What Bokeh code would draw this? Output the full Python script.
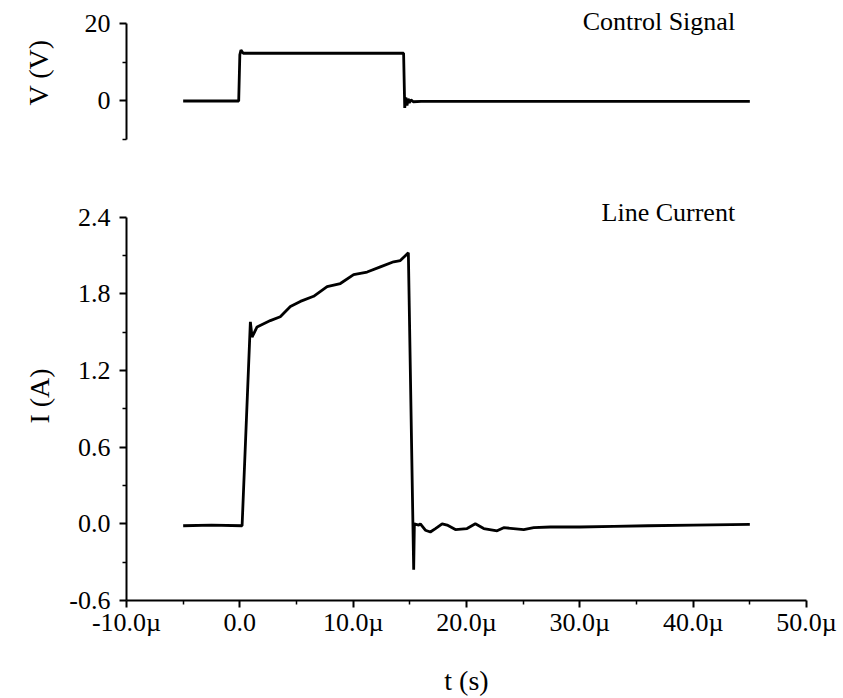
from bokeh.plotting import figure
from bokeh.layouts import column
from bokeh.models import Range1d, FixedTicker, CustomJSTickFormatter, Label
from bokeh.embed import file_html
from bokeh.resources import INLINE

# ---- data (time in microseconds) ----
t_ctrl = [-5.0, -0.1, 0.0, 0.1, 0.3, 5.0, 10.0, 14.45, 14.55, 14.65, 14.75, 14.85,
          14.95, 15.1, 15.3, 16.0, 20.0, 30.0, 45.0]
v_ctrl = [0.0, 0.0, 12.0, 13.2, 12.4, 12.4, 12.4, 12.4, -1.8, 0.9, -1.2, 0.6,
          -0.5, 0.3, -0.2, -0.1, -0.1, -0.1, -0.1]

t_line = [-5.0, -2.5, 0.2, 0.93, 1.08, 1.52, 2.69, 3.57, 4.46, 5.34, 6.51, 7.70,
          8.87, 10.04, 11.23, 12.40, 13.57, 14.16, 14.87, 15.34, 15.40, 15.78,
          15.93, 16.37, 16.81, 17.26, 17.85, 18.29, 19.02, 20.05, 20.78, 21.52,
          22.70, 23.28, 25.05, 25.93, 27.41, 30.0, 33.0, 36.0, 40.0, 45.0]
i_line = [-0.015, -0.01, -0.015, 1.58, 1.46, 1.54, 1.59, 1.62, 1.70, 1.74, 1.78,
          1.855, 1.88, 1.95, 1.97, 2.01, 2.05, 2.06, 2.12, -0.36, 0.0, -0.01,
          0.0, -0.05, -0.064, -0.037, 0.0, -0.01, -0.045, -0.037, 0.0, -0.037,
          -0.055, -0.03, -0.045, -0.03, -0.025, -0.025, -0.02, -0.015, -0.01, -0.005]

x_ticks = [-10, 0, 10, 20, 30, 40, 50]
x_minor = [-5, 5, 15, 25, 35, 45]
i_ticks = [-0.6, 0.0, 0.6, 1.2, 1.8, 2.4]
i_minor = [-0.3, 0.3, 0.9, 1.5, 2.1]
v_ticks = [0, 20]
v_minor = [-10, 10]

FONT = "Liberation Serif"
FS = "26px"
FS_LABEL = "28px"


def style_axis(ax):
    ax.axis_line_color = "black"
    ax.axis_line_width = 2
    ax.major_tick_line_color = "black"
    ax.major_tick_line_width = 2
    ax.minor_tick_line_color = "black"
    ax.minor_tick_line_width = 1.5
    ax.major_tick_out = 7
    ax.major_tick_in = 0
    ax.minor_tick_out = 4
    ax.minor_tick_in = 0
    ax.major_label_text_font = FONT
    ax.major_label_text_font_size = FS
    ax.major_label_text_color = "black"
    ax.axis_label_text_font = FONT
    ax.axis_label_text_font_size = FS_LABEL
    ax.axis_label_text_font_style = "normal"
    ax.axis_label_text_color = "black"
    ax.major_label_standoff = 9


W = 843
top = figure(width=W, height=170, output_backend="svg", toolbar_location=None,
             x_range=Range1d(-10, 50), y_range=Range1d(-10, 24.8),
             x_axis_location=None, min_border_left=126, min_border_right=37,
             min_border_top=5, min_border_bottom=31)
top.outline_line_color = None
top.grid.visible = False
top.line(t_ctrl, v_ctrl, line_color="black", line_width=2.8)
ya = top.yaxis[0]
ya.bounds = (-10, 20)
ya.ticker = FixedTicker(ticks=v_ticks, minor_ticks=v_minor)
ya.formatter = CustomJSTickFormatter(code="return tick.toFixed(0);")
ya.axis_label = "V (V)"
style_axis(ya)
ya.axis_label_standoff = 28
top.add_layout(Label(x=43.7, y=20.6, text="Control Signal", text_align="right",
                     text_baseline="middle", text_font=FONT, text_font_size=FS,
                     text_color="black"))

bot = figure(width=W, height=528, output_backend="svg", toolbar_location=None,
             x_range=Range1d(-10, 50), y_range=Range1d(-0.6, 2.6),
             min_border_left=126, min_border_right=37,
             min_border_top=21, min_border_bottom=98)
bot.outline_line_color = None
bot.grid.visible = False
bot.line(t_line, i_line, line_color="black", line_width=2.8)
xa = bot.xaxis[0]
xa.ticker = FixedTicker(ticks=x_ticks, minor_ticks=x_minor)
xa.formatter = CustomJSTickFormatter(
    code="return tick == 0 ? '0.0' : tick.toFixed(1) + '\u00b5';")
xa.axis_label = "t (s)"
style_axis(xa)
xa.major_label_standoff = 0
xa.axis_label_standoff = 25
yb = bot.yaxis[0]
yb.bounds = (-0.6, 2.4)
yb.ticker = FixedTicker(ticks=i_ticks, minor_ticks=i_minor)
yb.formatter = CustomJSTickFormatter(code="return tick.toFixed(1);")
yb.axis_label = "I (A)"
style_axis(yb)
yb.axis_label_standoff = 11
bot.add_layout(Label(x=43.7, y=2.435, text="Line Current", text_align="right",
                     text_baseline="middle", text_font=FONT, text_font_size=FS,
                     text_color="black"))

layout = column(top, bot, spacing=0)
open("out.html", "w").write(file_html(layout, INLINE))
